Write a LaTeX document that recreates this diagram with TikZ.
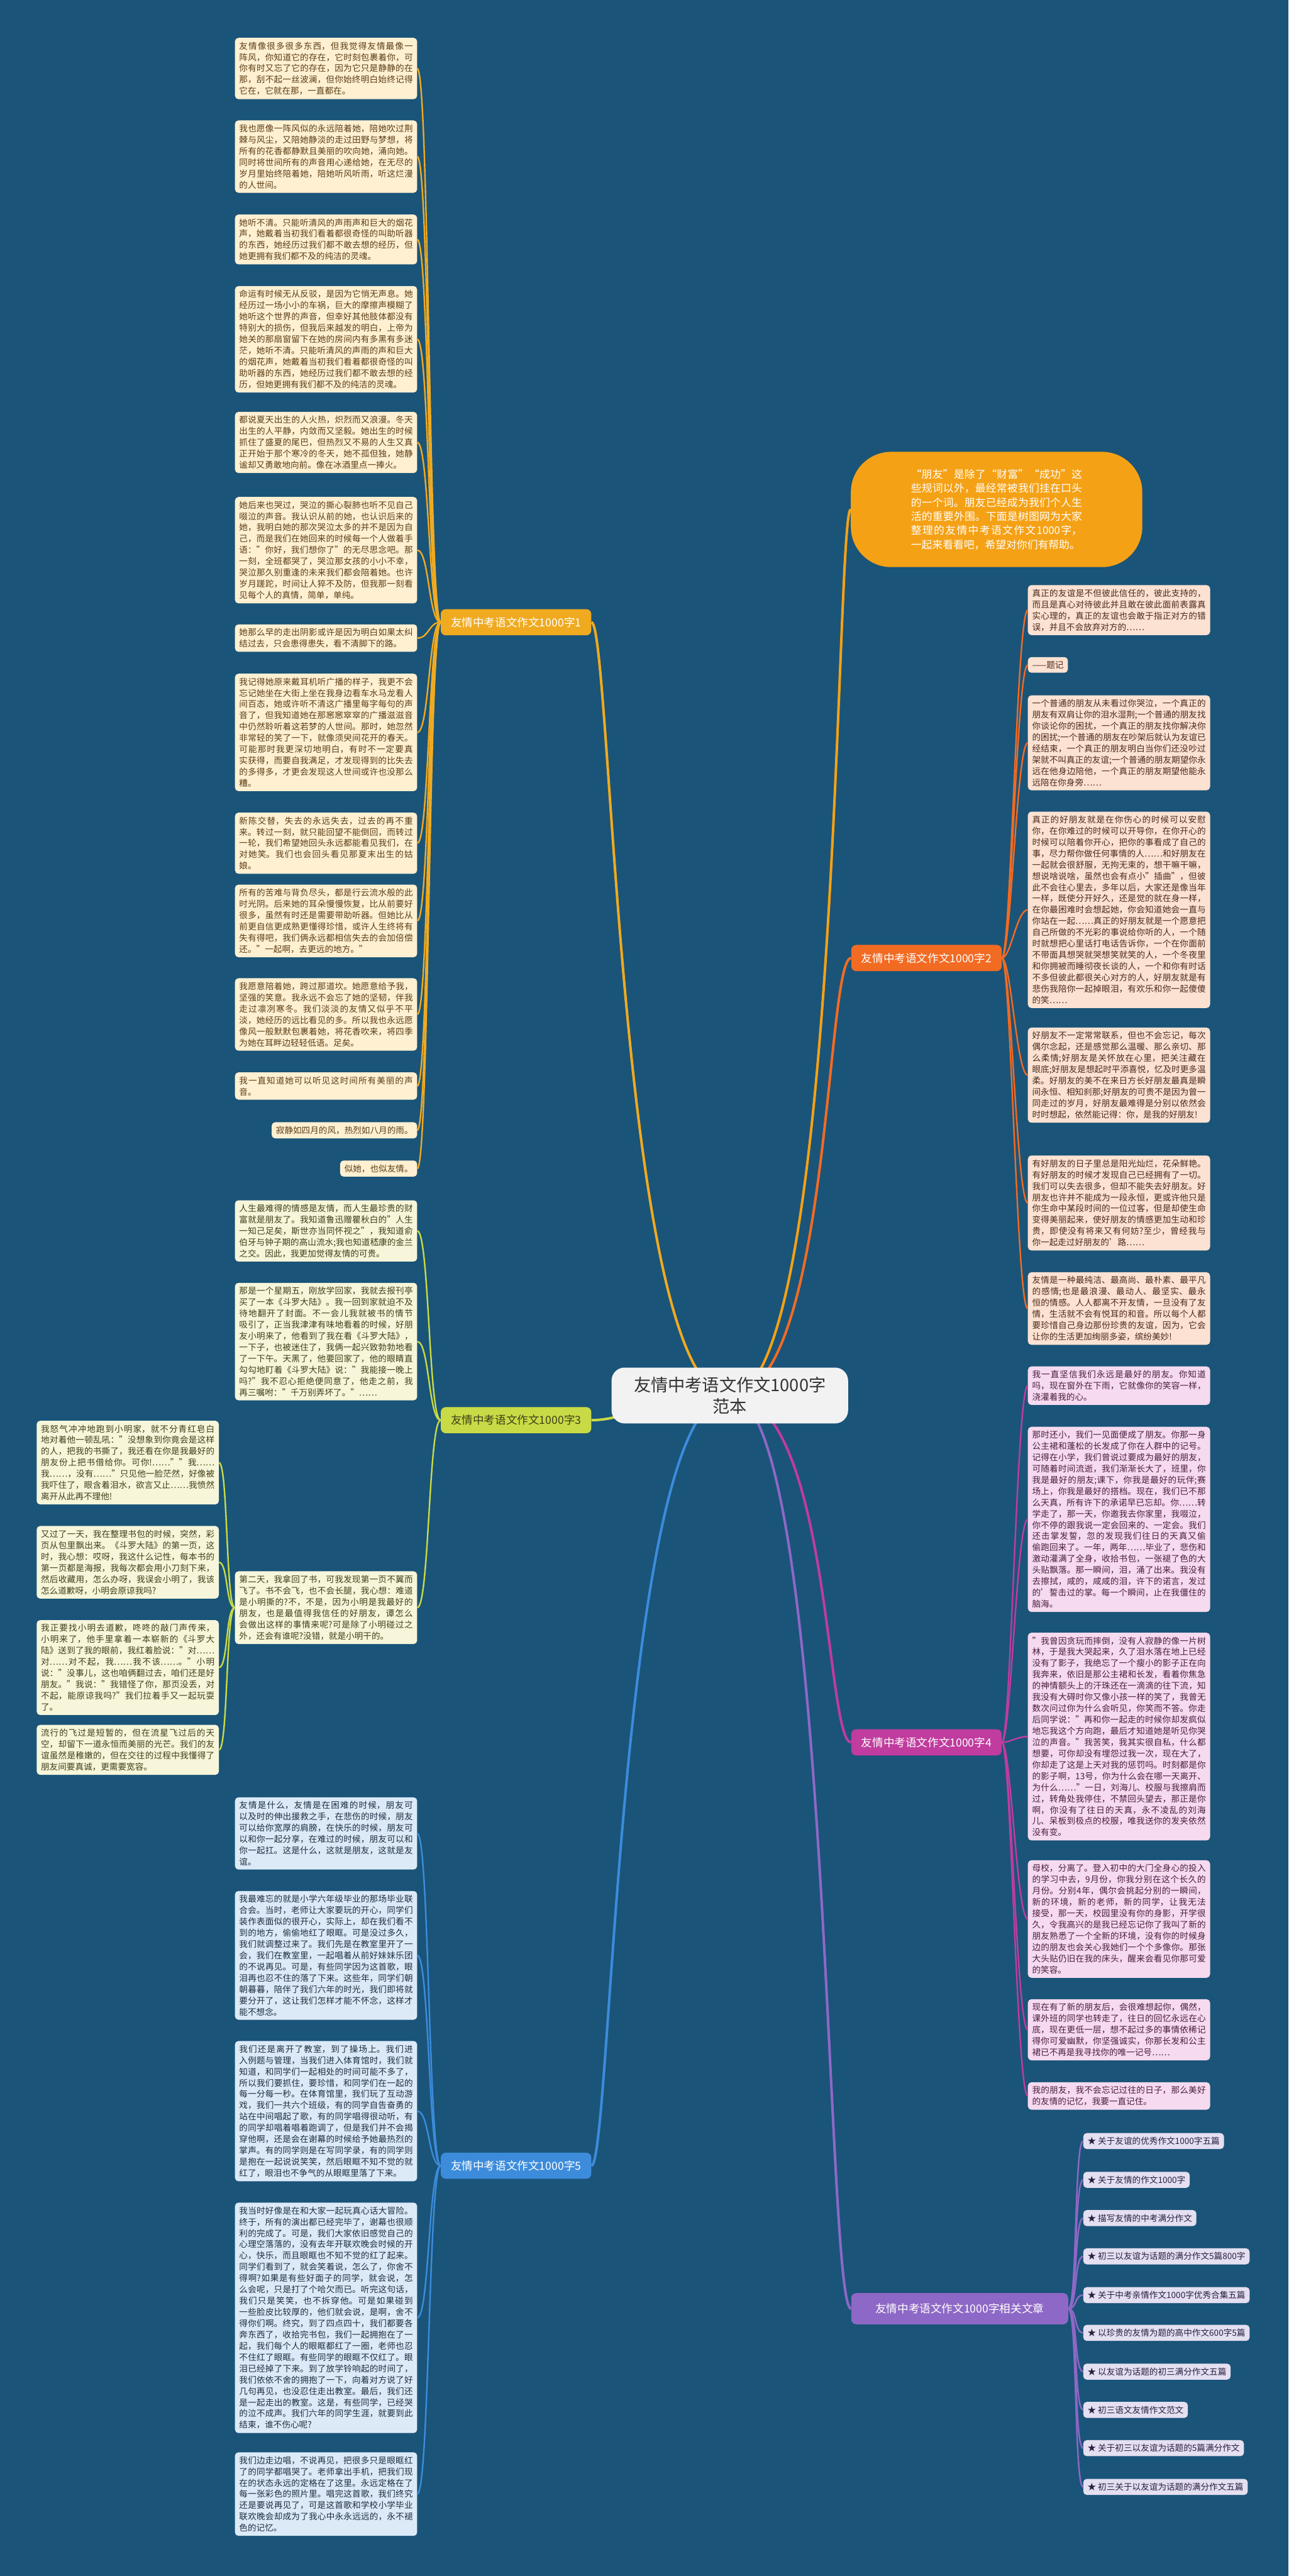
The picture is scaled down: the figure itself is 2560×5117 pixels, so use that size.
\documentclass[tikz,border=0pt]{standalone}
\usepackage{fontspec}
\setmainfont{Noto Sans CJK SC}
\XeTeXlinebreaklocale "zh"
\XeTeXlinebreakskip=0pt plus 1pt
\usetikzlibrary{positioning,calc}

\definecolor{bgblue}{HTML}{1A5479}
\definecolor{fillA}{HTML}{FFF0D2}\definecolor{inkA}{HTML}{5A3D15}\definecolor{lineA}{HTML}{F0AA20}
\definecolor{fillB}{HTML}{FCE2D2}\definecolor{inkB}{HTML}{4D2A1A}\definecolor{lineB}{HTML}{F26B22}
\definecolor{fillC}{HTML}{F7F6DA}\definecolor{inkC}{HTML}{3F3F1A}\definecolor{lineC}{HTML}{C8DA45}
\definecolor{fillD}{HTML}{F6DAEF}\definecolor{inkD}{HTML}{4A1E40}\definecolor{lineD}{HTML}{C03C9E}
\definecolor{fillE}{HTML}{DCEAF8}\definecolor{inkE}{HTML}{1E2E40}\definecolor{lineE}{HTML}{3C8CDB}
\definecolor{fillF}{HTML}{E4DFF1}\definecolor{inkF}{HTML}{2A1E40}\definecolor{lineF}{HTML}{8E68C6}
\definecolor{introc}{HTML}{F5A115}

\begin{document}
\begin{tikzpicture}[
    x=1pt, y=-1pt,
    leaf/.style={rounded corners=7pt, text width=345pt, align=justify, inner xsep=8.5pt, inner ysep=8pt,
      font=\fontsize{17pt}{22.4pt}\selectfont},
    shortleaf/.style={rounded corners=7pt, inner xsep=8.5pt, inner ysep=8pt,
      font=\fontsize{17pt}{22.4pt}\selectfont},
    boxA/.style={fill=fillA, text=inkA}, boxB/.style={fill=fillB, text=inkB},
    boxC/.style={fill=fillC, text=inkC}, boxD/.style={fill=fillD, text=inkD},
    boxE/.style={fill=fillE, text=inkE}, boxF/.style={fill=fillF, text=inkF},
    topic/.style={rounded corners=10pt, minimum height=52pt, inner xsep=20pt, text=white,
      font=\fontsize{22pt}{26pt}\selectfont},
    trunk/.style={line width=5pt},
    twig/.style={line width=3pt}
]

% background
\useasboundingbox (0,0) rectangle (2560,5117);
\fill[bgblue] (0,0) rectangle (2560,5117);

% Branch topics
\node[topic, fill=lineA, anchor=east] (br1) at (1175,1236) {友情中考语文作文1000字1};
\node[topic, fill=lineB, anchor=west] (br2) at (1691,1903) {友情中考语文作文1000字2};
\node[topic, fill=lineC, text=inkC, anchor=east] (br3) at (1175,2821) {友情中考语文作文1000字3};
\node[topic, fill=lineD, anchor=west] (br4) at (1691,3461) {友情中考语文作文1000字4};
\node[topic, fill=lineE, anchor=east] (br5) at (1175,4302) {友情中考语文作文1000字5};
\node[topic, fill=lineF, anchor=west, minimum height=62pt, minimum width=431pt] (br6) at (1691,4586) {友情中考语文作文1000字相关文章};
\node[fill=introc, text=white, rounded corners=80pt, text width=340pt, minimum width=579pt, minimum height=229pt,
  align=justify, font=\fontsize{21pt}{28pt}\selectfont] (intro) at (1980,1012)
  {“朋友”是除了“财富”“成功”这些规词以外，最经常被我们挂在口头的一个词。朋友已经成为我们个人生活的重要外围。下面是树图网为大家整理的友情中考语文作文1000字，一起来看看吧，希望对你们有帮助。};

% Branch 1
\node[leaf, boxA, anchor=north east] (p1) at (829,75) {友情像很多很多东西，但我觉得友情最像一阵风，你知道它的存在，它时刻包裹着你，可你有时又忘了它的存在，因为它只是静静的在那，刮不起一丝波澜，但你始终明白始终记得它在，它就在那，一直都在。};
\node[leaf, boxA, anchor=north east] (p2) at (829,239) {我也愿像一阵风似的永远陪着她，陪她吹过荆棘与风尘，又陪她静淡的走过田野与梦想，将所有的花香都静默且美丽的吹向她，涌向她。同时将世间所有的声音用心递给她，在无尽的岁月里始终陪着她，陪她听风听雨，听这烂漫的人世间。};
\node[leaf, boxA, anchor=north east] (p3) at (829,426) {她听不清。只能听清风的声雨声和巨大的烟花声，她戴着当初我们看着都很奇怪的叫助听器的东西，她经历过我们都不敢去想的经历，但她更拥有我们都不及的纯洁的灵魂。};
\node[leaf, boxA, anchor=north east] (p4) at (829,568) {命运有时候无从反驳，是因为它悄无声息。她经历过一场小小的车祸，巨大的摩擦声模糊了她听这个世界的声音，但幸好其他肢体都没有特别大的损伤，但我后来越发的明白，上帝为她关的那扇窗留下在她的房间内有多黑有多迷茫，她听不清。只能听清风的声雨的声和巨大的烟花声，她戴着当初我们看着都很奇怪的叫助听器的东西，她经历过我们都不敢去想的经历，但她更拥有我们都不及的纯洁的灵魂。};
\node[leaf, boxA, anchor=north east] (p5) at (829,818) {都说夏天出生的人火热，炽烈而又浪漫。冬天出生的人平静，内敛而又坚毅。她出生的时候抓住了盛夏的尾巴，但热烈又不易的人生又真正开始于那个寒冷的冬天，她不孤但独，她静谧却又勇敢地向前。像在冰酒里点一捧火。};
\node[leaf, boxA, anchor=north east] (p6) at (829,987) {她后来也哭过，哭泣的撕心裂肺也听不见自己啜泣的声音。我认识从前的她，也认识后来的她，我明白她的那次哭泣太多的并不是因为自己，而是我们在她回来的时候每一个人做着手语："你好，我们想你了"的无尽思念吧。那一刻，全班都哭了，哭泣那女孩的小小不幸，哭泣那久别重逢的未来我们都会陪着她。也许岁月蹉跎，时间让人猝不及防，但我那一刻看见每个人的真情，简单，单纯。};
\node[leaf, boxA, anchor=north east] (p7) at (829,1240) {她那么早的走出阴影或许是因为明白如果太纠结过去，只会患得患失，看不清脚下的路。};
\node[leaf, boxA, anchor=north east] (p8) at (829,1338) {我记得她原来戴耳机听广播的样子，我更不会忘记她坐在大街上坐在我身边看车水马龙看人间百态，她或许听不清这广播里每字每句的声音了，但我知道她在那窸窸窣窣的广播滋滋音中仍然聆听着这若梦的人世间。那时，她忽然非常轻的笑了一下，就像须臾间花开的春天。可能那时我更深切地明白，有时不一定要真实获得，而要自我满足，才发现得到的比失去的多得多，才更会发现这人世间或许也没那么糟。};
\node[leaf, boxA, anchor=north east] (p9) at (829,1614) {新陈交替，失去的永远失去，过去的再不重来。转过一刻，就只能回望不能倒回，而转过一轮，我们希望她回头永远都能看见我们，在对她笑。我们也会回头看见那夏末出生的姑娘。};
\node[leaf, boxA, anchor=north east] (p10) at (829,1757) {所有的苦难与背负尽头，都是行云流水般的此时光阴。后来她的耳朵慢慢恢复，比从前要好很多，虽然有时还是需要带助听器。但她比从前更自信更成熟更懂得珍惜，或许人生终将有失有得吧，我们俩永远都相信失去的会加倍偿还。"一起啊，去更远的地方。"};
\node[leaf, boxA, anchor=north east] (p11) at (829,1943) {我愿意陪着她，跨过那道坎。她愿意给予我，坚强的笑意。我永远不会忘了她的坚韧，伴我走过凛冽寒冬。我们淡淡的友情又似乎不平淡，她经历的远比看见的多。所以我也永远愿像风一般默默包裹着她，将花香吹来，将四季为她在耳畔边轻轻低语。足矣。};
\node[leaf, boxA, anchor=north east] (p12) at (829,2130) {我一直知道她可以听见这时间所有美丽的声音。};
\node[shortleaf, boxA, anchor=north east] (p13) at (829,2229) {寂静如四月的风，热烈如八月的雨。};
\node[shortleaf, boxA, anchor=north east] (p14) at (829,2305) {似她，也似友情。};

% Branch 2
\node[leaf, boxB, anchor=north west] (q1) at (2042,1162) {真正的友谊是不但彼此信任的，彼此支持的，而且是真心对待彼此并且敢在彼此面前表露真实心理的，真正的友谊也会敢于指正对方的错误，并且不会放弃对方的……};
\node[shortleaf, boxB, anchor=north west] (q2) at (2042,1305) {——题记};
\node[leaf, boxB, anchor=north west] (q3) at (2042,1381) {一个普通的朋友从未看过你哭泣，一个真正的朋友有双肩让你的泪水湿荆;一个普通的朋友找你谈论你的困扰，一个真正的朋友找你解决你的困扰;一个普通的朋友在吵架后就认为友谊已经结束，一个真正的朋友明白当你们还没吵过架就不叫真正的友谊;一个普通的朋友期望你永远在他身边陪他，一个真正的朋友期望他能永远陪在你身旁……};
\node[leaf, boxB, anchor=north west] (q4) at (2042,1612) {真正的好朋友就是在你伤心的时候可以安慰你，在你难过的时候可以开导你，在你开心的时候可以陪着你开心，把你的事看成了自己的事，尽力帮你做任何事情的人……和好朋友在一起就会很舒服，无拘无束的，想干嘛干嘛，想说啥说啥，虽然也会有点小"插曲"，但彼此不会往心里去，多年以后，大家还是像当年一样，既使分开好久，还是觉的就在身一样，在你最困难时会想起她，你会知道她会一直与你站在一起……真正的好朋友就是一个愿意把自己所做的不光彩的事说给你听的人，一个随时就想把心里话打电话告诉你，一个在你面前不带面具想哭就哭想笑就笑的人，一个冬夜里和你拥被而睡彻夜长谈的人，一个和你有时话不多但彼此都很关心对方的人，好朋友就是有悲伤我陪你一起掉眼泪，有欢乐和你一起傻傻的笑……};
\node[leaf, boxB, anchor=north west] (q5) at (2042,2041) {好朋友不一定常常联系，但也不会忘记，每次偶尔念起，还是感觉那么温暖、那么亲切、那么柔情;好朋友是关怀放在心里，把关注藏在眼底;好朋友是想起时平添喜悦，忆及时更多温柔。好朋友的美不在来日方长好朋友最真是瞬间永恒、相知刹那;好朋友的可贵不是因为曾一同走过的岁月，好朋友最难得是分别以依然会时时想起，依然能记得：你，是我的好朋友!};
\node[leaf, boxB, anchor=north west] (q6) at (2042,2295) {有好朋友的日子里总是阳光灿烂，花朵鲜艳。有好朋友的时候才发现自己已经拥有了一切。我们可以失去很多，但却不能失去好朋友。好朋友也许并不能成为一段永恒，更或许他只是你生命中某段时间的一位过客，但是却使生命变得美丽起来，使好朋友的情感更加生动和珍贵，即使没有将来又有何妨?至少，曾经我与你一起走过好朋友的'路……};
\node[leaf, boxB, anchor=north west] (q7) at (2042,2527) {友情是一种最纯洁、最高尚、最朴素、最平凡的感情;也是最浪漫、最动人、最坚实、最永恒的情感。人人都离不开友情，一旦没有了友情，生活就不会有悦耳的和音。所以每个人都要珍惜自己身边那份珍贵的友谊，因为，它会让你的生活更加绚丽多姿，缤纷美妙!};

% Branch 3
\node[leaf, boxC, anchor=north east] (r1) at (829,2384) {人生最难得的情感是友情，而人生最珍贵的财富就是朋友了。我知道鲁迅赠瞿秋白的"人生一知己足矣，斯世亦当同怀视之"，我知道俞伯牙与钟子期的高山流水;我也知道嵇康的金兰之交。因此，我更加觉得友情的可贵。};
\node[leaf, boxC, anchor=north east] (r2) at (829,2548) {那是一个星期五，刚放学回家，我就去报刊亭买了一本《斗罗大陆》。我一回到家就迫不及待地翻开了封面。不一会儿我就被书的情节吸引了，正当我津津有味地看着的时候，好朋友小明来了，他看到了我在看《斗罗大陆》，一下子，也被迷住了，我俩一起兴致勃勃地看了一下午。天黑了，他要回家了，他的眼睛直勾勾地盯着《斗罗大陆》说："我能接一晚上吗?"我不忍心拒绝便同意了，他走之前，我再三嘱咐："千万别弄坏了。"……};
\node[leaf, boxC, anchor=north east] (r3) at (829,3121) {第二天，我拿回了书，可我发现第一页不翼而飞了。书不会飞，也不会长腿，我心想：难道是小明撕的?不，不是，因为小明是我最好的朋友，也是最值得我信任的好朋友，谭怎么会做出这样的事情来呢?可是除了小明碰过之外，还会有谁呢?没错，就是小明干的。};
\node[leaf, boxC, anchor=north east] (s1) at (435,2822) {我怒气冲冲地跑到小明家，就不分青红皂白地对着他一顿乱吼："没想象到你竟会是这样的人，把我的书撕了，我还看在你是我最好的朋友份上把书借给你。可你!……""我……我……，没有……"只见他一脸茫然，好像被我吓住了，眼含着泪水，欲言又止……我愤然离开从此再不理他!};
\node[leaf, boxC, anchor=north east] (s2) at (435,3031) {又过了一天，我在整理书包的时候，突然，彩页从包里飘出来。《斗罗大陆》的第一页，这时，我心想：哎呀，我这什么记性，每本书的第一页都是海报，我每次都会用小刀刻下来，然后收藏用，怎么办呀，我误会小明了，我该怎么道歉呀，小明会原谅我吗?};
\node[leaf, boxC, anchor=north east] (s3) at (435,3218) {我正要找小明去道歉，咚咚的敲门声传来，小明来了，他手里拿着一本崭新的《斗罗大陆》送到了我的眼前，我红着脸说："对……对……对不起，我……我不该……。"小明说："没事儿，这也咱俩翻过去，咱们还是好朋友。"我说："我错怪了你，那页没丢，对不起，能原谅我吗?"我们拉着手又一起玩耍了。};
\node[leaf, boxC, anchor=north east] (s4) at (435,3426) {流行的飞过是短暂的，但在流星飞过后的天空，却留下一道永恒而美丽的光芒。我们的友谊虽然是稚嫩的，但在交往的过程中我懂得了朋友间要真诚，更需要宽容。};

% Branch 4
\node[leaf, boxD, anchor=north west] (t1) at (2042,2714) {我一直坚信我们永远是最好的朋友。你知道吗，现在窗外在下雨，它就像你的笑容一样，浇灌着我的心。};
\node[leaf, boxD, anchor=north west] (t2) at (2042,2834) {那时还小，我们一见面便成了朋友。你那一身公主裙和蓬松的长发成了你在人群中的记号。记得在小学，我们曾说过要成为最好的朋友，可随着时间流逝，我们渐渐长大了，班里，你我是最好的朋友;课下，你我是最好的玩伴;赛场上，你我是最好的搭档。现在，我们已不那么天真，所有许下的承诺早已忘却。你……转学走了，那一天，你邀我去你家里，我啜泣，你不停的跟我说一定会回来的、一定会。我们还击掌发誓，忽的发现我们往日的天真又偷偷跑回来了。一年，两年……毕业了，悲伤和激动灌满了全身，收拾书包，一张褪了色的大头贴飘落。那一瞬间，泪，涌了出来。我没有去擦拭，咸的，咸咸的泪，许下的诺言，发过的'誓击过的掌。每一个瞬间，止在我僵住的脑海。};
\node[leaf, boxD, anchor=north west] (t3) at (2042,3243) {"我曾因贪玩而摔倒，没有人寂静的像一片树林，于是我大哭起来，久了泪水落在地上已经没有了影子，我绝忘了一个瘦小的影子正在向我奔来，依旧是那公主裙和长发，看着你焦急的神情额头上的汗珠还在一滴滴的往下流，知我没有大碍时你又像小孩一样的笑了，我曾无数次问过你为什么会听见，你笑而不答。你走后同学说："再和你一起走的时候你却发疯似地忘我这个方向跑，最后才知道她是听见你哭泣的声音。"我苦笑，我其实很自私，什么都想要，可你却没有埋怨过我一次，现在大了，你却走了这是上天对我的惩罚吗。时刻都是你的影子啊，13号，你为什么会在哪一天离开、为什么……"一日，刘海儿、校服与我擦肩而过，转角处我停住，不禁回头望去，那正是你啊，你没有了往日的天真，永不凌乱的刘海儿、呆板到极点的校服，唯我送你的发夹依然没有变。};
\node[leaf, boxD, anchor=north west] (t4) at (2042,3695) {母校，分离了。登入初中的大门全身心的投入的学习中去，9月份，你我分别在这个长久的月份。分别4年，偶尔会挑起分别的一瞬间，新的环境，新的老师，新的同学，让我无法接受，那一天，校园里没有你的身影，开学很久，令我高兴的是我已经忘记你了我叫了新的朋友熟悉了一个全新的环境，没有你的时候身边的朋友也会关心我她们一个个多像你。那张大头贴仍旧在我的床头，醒来会看见你那可爱的笑容。};
\node[leaf, boxD, anchor=north west] (t5) at (2042,3971) {现在有了新的朋友后，会很难想起你，偶然，课外班的同学也转走了，往日的回忆永远在心底，现在更低一层，想不起过多的事情依稀记得你可爱幽默，你坚强诚实，你那长发和公主裙已不再是我寻找你的唯一记号……};
\node[leaf, boxD, anchor=north west] (t6) at (2042,4136) {我的朋友，我不会忘记过往的日子，那么美好的友情的记忆，我要一直记住。};

% Branch 5
\node[leaf, boxE, anchor=north east] (u1) at (829,3570) {友情是什么，友情是在困难的时候，朋友可以及时的伸出援救之手，在悲伤的时候，朋友可以给你宽厚的肩膀，在快乐的时候，朋友可以和你一起分享，在难过的时候，朋友可以和你一起扛。这是什么，这就是朋友，这就是友谊。};
\node[leaf, boxE, anchor=north east] (u2) at (829,3756) {我最难忘的就是小学六年级毕业的那场毕业联合会。当时，老师让大家要玩的开心，同学们装作表面似的很开心，实际上，却在我们看不到的地方，偷偷地红了眼眶。可是没过多久，我们就调整过来了。我们先是在教室里开了一会，我们在教室里，一起唱着从前好妹妹乐团的不说再见。可是，有些同学因为这首歌，眼泪再也忍不住的落了下来。这些年，同学们朝朝暮暮，陪伴了我们六年的时光，我们即将就要分开了，这让我们怎样才能不怀念，这样才能不想念。};
\node[leaf, boxE, anchor=north east] (u3) at (829,4054) {我们还是离开了教室，到了操场上。我们进入例题与管理，当我们进入体育馆时，我们就知道，和同学们一起相处的时间可能不多了，所以我们要抓住，要珍惜，和同学们在一起的每一分每一秒。在体育馆里，我们玩了互动游戏，我们一共六个班级，有的同学自告奋勇的站在中间唱起了歌，有的同学唱得很动听，有的同学却唱着唱着跑调了，但是我们并不会揭穿他啊，还是会在谢幕的时候给予她最热烈的掌声。有的同学则是在写同学录，有的同学则是抱在一起说说笑笑，然后眼眶不知不觉的就红了，眼泪也不争气的从眼眶里落了下来。};
\node[leaf, boxE, anchor=north east] (u4) at (829,4375) {我当时好像是在和大家一起玩真心话大冒险。终于，所有的演出都已经完毕了，谢幕也很顺利的完成了。可是，我们大家依旧感觉自己的心理空落落的，没有去年开联欢晚会时候的开心，快乐，而且眼眶也不知不觉的红了起来。同学们看到了，就会笑着说，怎么了，你舍不得啊?如果是有些好面子的同学，就会说，怎么会呢，只是打了个哈欠而已。听完这句话，我们只是笑笑，也不拆穿他。可是如果碰到一些脸皮比较厚的，他们就会说，是啊，舍不得你们啊。终究，到了四点四十，我们都要各奔东西了，收拾完书包，我们一起拥抱在了一起，我们每个人的眼眶都红了一圈，老师也忍不住红了眼眶。有些同学的眼眶不仅红了。眼泪已经掉了下来。到了放学铃响起的时间了，我们依依不舍的拥抱了一下，向着对方说了好几句再见，也没忍住走出教室。最后，我们还是一起走出的教室。这是，有些同学，已经哭的泣不成声。我们六年的同学生涯，就要到此结束，谁不伤心呢?};
\node[leaf, boxE, anchor=north east] (u5) at (829,4871) {我们边走边唱，不说再见，把很多只是眼眶红了的同学都唱哭了。老师拿出手机，把我们现在的状态永远的定格在了这里。永远定格在了每一张彩色的照片里。唱完这首歌，我们终究还是要说再见了，可是这首歌和学校小学毕业联欢晚会却成为了我心中永永远远的，永不褪色的记忆。};

% Related articles
\foreach \i/\y/\t in {1/4253/关于友谊的优秀作文1000字五篇, 2/4330/关于友情的作文1000字,
    3/4406/描写友情的中考满分作文, 4/4482/初三以友谊为话题的满分作文5篇800字,
    5/4559/关于中考亲情作文1000字优秀合集五篇, 6/4634/以珍贵的友情为题的高中作文600字5篇,
    7/4711/以友谊为话题的初三满分作文五篇, 8/4787/初三语文友情作文范文,
    9/4863/关于初三以友谊为话题的5篇满分作文, 10/4940/初三关于以友谊为话题的满分作文五篇}{
  \node[shortleaf, boxF, anchor=west] (v\i) at (2152,\y) {★ \t};
}

% Leaf connectors
\foreach \i in {1,...,14}{
  \draw[twig, lineA] (br1.west) .. controls +(-24,0) and +(24,0) .. (p\i.east);
}
\foreach \i in {1,...,7}{
  \draw[twig, lineB] (br2.east) .. controls +(18,0) and +(-22,0) .. (q\i.west);
}
\foreach \i in {1,...,3}{
  \draw[twig, lineC] (br3.west) .. controls +(-24,0) and +(24,0) .. (r\i.east);
}
\foreach \i in {1,...,4}{
  \draw[twig, lineC] (r3.west) .. controls +(-18,0) and +(18,0) .. (s\i.east);
}
\foreach \i in {1,...,6}{
  \draw[twig, lineD] (br4.east) .. controls +(18,0) and +(-22,0) .. (t\i.west);
}
\foreach \i in {1,...,5}{
  \draw[twig, lineE] (br5.west) .. controls +(-24,0) and +(24,0) .. (u\i.east);
}
\foreach \i in {1,...,10}{
  \draw[twig, lineF] (br6.east) .. controls +(18,0) and +(-18,0) .. (v\i.west);
}

% Main branches (drawn before the centre node)
\coordinate (hub) at (1450,2772);
\draw[trunk, lineA] (hub) .. controls (1230,2772) and (1215,1236) .. (br1.east);
\draw[trunk, lineC] (hub) .. controls (1300,2772) and (1250,2821) .. (br3.east);
\draw[trunk, lineE] (hub) .. controls (1230,2772) and (1215,4302) .. (br5.east);
\draw[trunk, introc] (hub) .. controls (1670,2772) and (1660,1012) .. (intro.west);
\draw[trunk, lineB] (hub) .. controls (1650,2772) and (1640,1903) .. (br2.west);
\draw[trunk, lineD] (hub) .. controls (1650,2772) and (1640,3461) .. (br4.west);
\draw[trunk, lineF] (hub) .. controls (1650,2772) and (1640,4586) .. (br6.west);

% Centre
\node[fill=white!95!black, text=black!80, rounded corners=26pt, minimum width=470pt, minimum height=111pt,
  align=center, font=\fontsize{34pt}{42pt}\selectfont] (root) at (hub) {友情中考语文作文1000字\\范本};

\end{tikzpicture}
\end{document}
